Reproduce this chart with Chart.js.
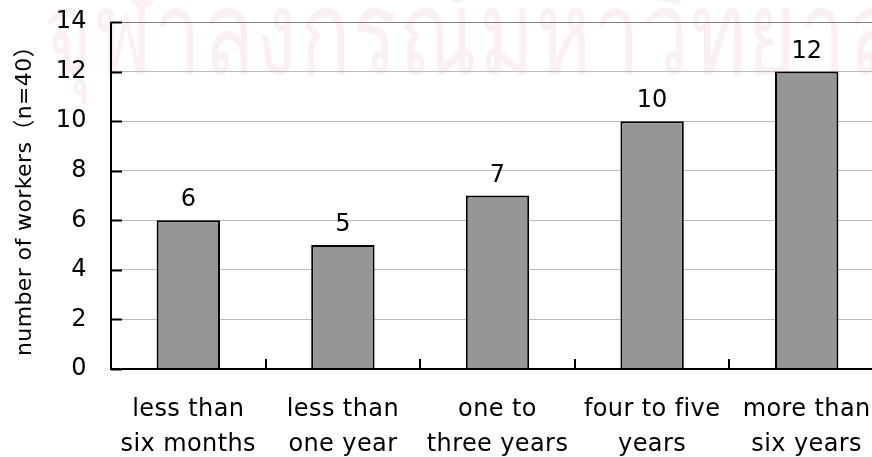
<!DOCTYPE html>
<html>
<head>
<meta charset="utf-8">
<script src="https://cdn.jsdelivr.net/npm/chart.js@4.4.1/dist/chart.umd.min.js"></script>
<style>
  html, body { margin: 0; padding: 0; background: #fff; overflow: hidden; }
  #wrap { width: 900px; height: 457px; position: relative; }
</style>
</head>
<body>
<div id="wrap"><canvas id="c" width="900" height="457"></canvas></div>
<script>
// Length of employment of the surveyed workers
const categories = [
  ['less than', 'six months'],
  ['less than', 'one year'],
  ['one to', 'three years'],
  ['four to five', 'years'],
  ['more than', 'six years']
];
const workerCounts = [6, 5, 7, 10, 12];
const yTicks = [0, 2, 4, 6, 8, 10, 12, 14];
const yTitle = 'number of workers\uFF08n=40\uFF09';
const watermark = 'จุฬาลงกรณ์มหาวิทยาลัย';

const FONT = '"DejaVu Sans", "Noto Sans CJK JP", sans-serif';

// Faint background lettering behind the plot, and text tracking for labels
const watermarkPlugin = {
  id: 'watermark',
  beforeDraw(chart) {
    const ctx = chart.ctx;
    ctx.save();
    ctx.fillStyle = '#faeff5';
    ctx.font = '116px "Noto Sans CJK JP", "DejaVu Sans", sans-serif';
    ctx.letterSpacing = '3px';
    ctx.textBaseline = 'alphabetic';
    ctx.textAlign = 'left';
    ctx.translate(44, 0);
    ctx.scale(0.72, 1);
    ctx.fillText(watermark, 0, 74);
    ctx.restore();
    ctx.letterSpacing = '0.4px';
  }
};

// Short inward tick marks on both axes, plus value labels above bars
const axisMarks = {
  id: 'axisMarks',
  afterDatasetsDraw(chart) {
    const ctx = chart.ctx;
    const x = chart.scales.x, y = chart.scales.y;
    const area = chart.chartArea;
    ctx.save();
    ctx.strokeStyle = '#000';
    ctx.lineWidth = 2;
    ctx.beginPath();
    yTicks.forEach(v => {
      const py = Math.round(y.getPixelForValue(v)) + 0.5;
      ctx.moveTo(area.left, py);
      ctx.lineTo(area.left + 11, py);
    });
    for (let i = 1; i < categories.length; i++) {
      const px = Math.round((x.getPixelForValue(i - 1) + x.getPixelForValue(i)) / 2);
      ctx.moveTo(px, area.bottom);
      ctx.lineTo(px, area.bottom - 10);
    }
    ctx.stroke();
    ctx.beginPath();
    ctx.moveTo(area.left, area.top);
    ctx.lineTo(area.left, area.bottom);
    ctx.lineTo(area.right, area.bottom);
    ctx.stroke();

    const meta = chart.getDatasetMeta(0);
    ctx.fillStyle = '#000';
    ctx.font = '24px ' + FONT;
    ctx.letterSpacing = '0px';
    ctx.textAlign = 'center';
    ctx.textBaseline = 'alphabetic';
    meta.data.forEach((bar, i) => {
      ctx.fillText(String(workerCounts[i]), bar.x, bar.y - 14);
    });
    ctx.restore();
  }
};

new Chart(document.getElementById('c'), {
  type: 'bar',
  data: {
    labels: categories,
    datasets: [{
      data: workerCounts,
      backgroundColor: '#969696',
      borderColor: '#000',
      borderWidth: 2,
      categoryPercentage: 1,
      barPercentage: 0.41
    }]
  },
  options: {
    responsive: false,
    animation: false,
    devicePixelRatio: 1,
    layout: { padding: { top: 22, right: 16, left: 0, bottom: 0 } },
    plugins: {
      legend: { display: false },
      tooltip: { enabled: false }
    },
    scales: {
      x: {
        grid: { display: false, drawTicks: false },
        border: { display: false },
        ticks: {
          color: '#000',
          font: { family: FONT, size: 24, lineHeight: 35 / 24 },
          padding: 23,
          maxRotation: 0,
          autoSkip: false
        },
        afterFit(s) { s.height = 88; s.paddingLeft = 0; s.paddingRight = 0; }
      },
      y: {
        min: 0,
        max: 14,
        afterBuildTicks(s) { s.ticks = yTicks.map(v => ({ value: v })); },
        grid: {
          drawTicks: false,
          lineWidth: 1,
          color: ctx => ctx.tick && ctx.tick.value === 14 ? '#808080' : '#bcbcbc'
        },
        border: { display: false },
        ticks: {
          color: '#000',
          font: { family: FONT, size: 24 },
          padding: 24
        },
        title: {
          display: true,
          text: yTitle,
          color: '#000',
          font: { family: FONT, size: 22 },
          padding: { top: 12, bottom: 0 }
        },
        afterFit(s) { s.width = 111; s.paddingTop = 0; s.paddingBottom = 0; }
      }
    }
  },
  plugins: [watermarkPlugin, axisMarks]
});
</script>
</body>
</html>
